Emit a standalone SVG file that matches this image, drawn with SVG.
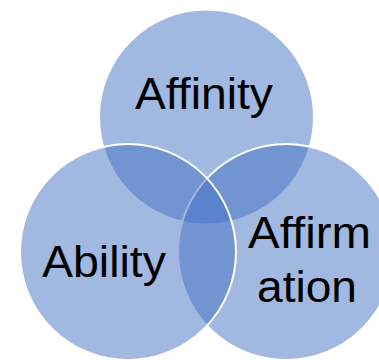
<svg xmlns="http://www.w3.org/2000/svg" width="379" height="360" viewBox="0 0 379 360">
<style>
.c{fill:#4472C4;fill-opacity:0.5;stroke:#FFFFFF;stroke-width:2}
.t{font-family:"Liberation Sans",Arial,sans-serif;font-size:45px;fill:#000000;text-anchor:middle}
</style>
<rect width="379" height="360" fill="#FFFFFF"/>
<g id="affinity">
<circle class="c" cx="206.5" cy="117" r="107.5"/>
</g>
<g id="affirmation">
<circle class="c" cx="286" cy="252" r="108"/>
</g>
<g id="ability">
<circle class="c" cx="128" cy="252" r="108"/>
</g>
<g id="labels">
<text class="t" x="204" y="109" textLength="138" lengthAdjust="spacingAndGlyphs">Affinity</text>
<text class="t" x="104" y="277" textLength="124" lengthAdjust="spacingAndGlyphs">Ability</text>
<text class="t" x="309.5" y="248" textLength="123" lengthAdjust="spacingAndGlyphs">Affirm</text>
<text class="t" x="307" y="302" textLength="100" lengthAdjust="spacingAndGlyphs">ation</text>
</g>
</svg>
